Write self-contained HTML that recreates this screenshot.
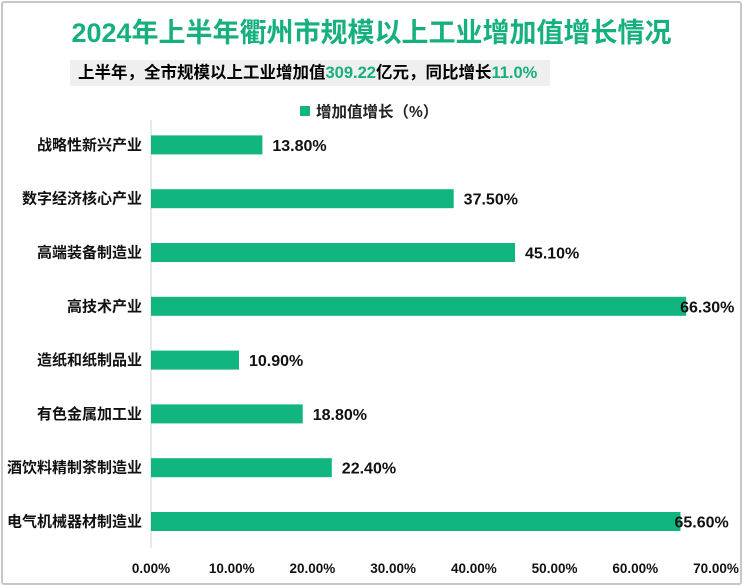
<!DOCTYPE html>
<html><head><meta charset="utf-8"><style>
body{margin:0;width:743px;height:586px;background:#fff;overflow:hidden;font-family:"Liberation Sans","Noto Sans CJK SC",sans-serif;}
#frame{position:absolute;left:1px;top:1px;width:737px;height:580px;border:2px solid #c8c8c8;border-radius:3px;}
#title{position:absolute;left:0;width:743px;top:11px;text-align:center;font-size:27px;font-weight:bold;color:#15b07e;}
#sub{position:absolute;left:70px;top:60px;width:480px;height:26px;background:#efefef;font-size:16.5px;font-weight:bold;line-height:26px;padding-left:8px;box-sizing:border-box;white-space:nowrap;}
#sub .g{color:#15b07e}
</style></head><body>
<div id="frame"></div>
<div id="title">2024年上半年衢州市规模以上工业增加值增长情况</div>
<div id="sub">上半年，全市规模以上工业增加值<span class="g">309.22</span>亿元，同比增长<span class="g">11.0%</span></div>
<svg id="chart" width="743" height="586" style="position:absolute;left:0;top:0"></svg>
<script>
const categories=["战略性新兴产业","数字经济核心产业","高端装备制造业","高技术产业","造纸和纸制品业","有色金属加工业","酒饮料精制茶制造业","电气机械器材制造业"];
const values=[13.8,37.5,45.1,66.3,10.9,18.8,22.4,65.6];
const ticks=[0,10,20,30,40,50,60,70];
const svg=document.getElementById('chart');const NS='http://www.w3.org/2000/svg';
const x0=151,x1=716,y0=118,rowH=53.8;
const xs=v=>x0+(v/70)*(x1-x0);
const yc=i=>y0+rowH*(i+0.5);
function mk(t,a,txt){const e=document.createElementNS(NS,t);for(const k in a)e.setAttribute(k,a[k]);if(txt!=null)e.textContent=txt;svg.appendChild(e);return e;}
let ax=mk('line',{x1:x0,x2:x0,y1:120,y2:548,stroke:'#d0d0d0','stroke-width':1});


let lg=mk('rect',{x:300,y:106,width:10,height:10,fill:'#10b580'});


let lt=mk('text',{x:316,y:117,'font-size':15.5,'font-weight':'bold',fill:'#222'},'增加值增长（%）');


ticks.forEach(t=>{const e=mk('text',{x:xs(t),y:573,'text-anchor':'middle','font-size':13.5,'font-weight':'bold',fill:'#111'},t.toFixed(2)+'%');

});
categories.forEach((c,i)=>{const y=yc(i);
const l=mk('text',{x:142,y:y+5,'text-anchor':'end','font-size':15,'font-weight':'bold',fill:'#111'},c);


const b=mk('rect',{x:x0,y:y-9.5,width:xs(values[i])-x0,height:19,fill:'#10b580'});


const v=mk('text',{x:xs(values[i])+(values[i]>60?-6:10),y:y+6,'font-size':16,'font-weight':'bold',fill:'#111'},values[i].toFixed(2)+'%');

});
</script>
</body></html>
